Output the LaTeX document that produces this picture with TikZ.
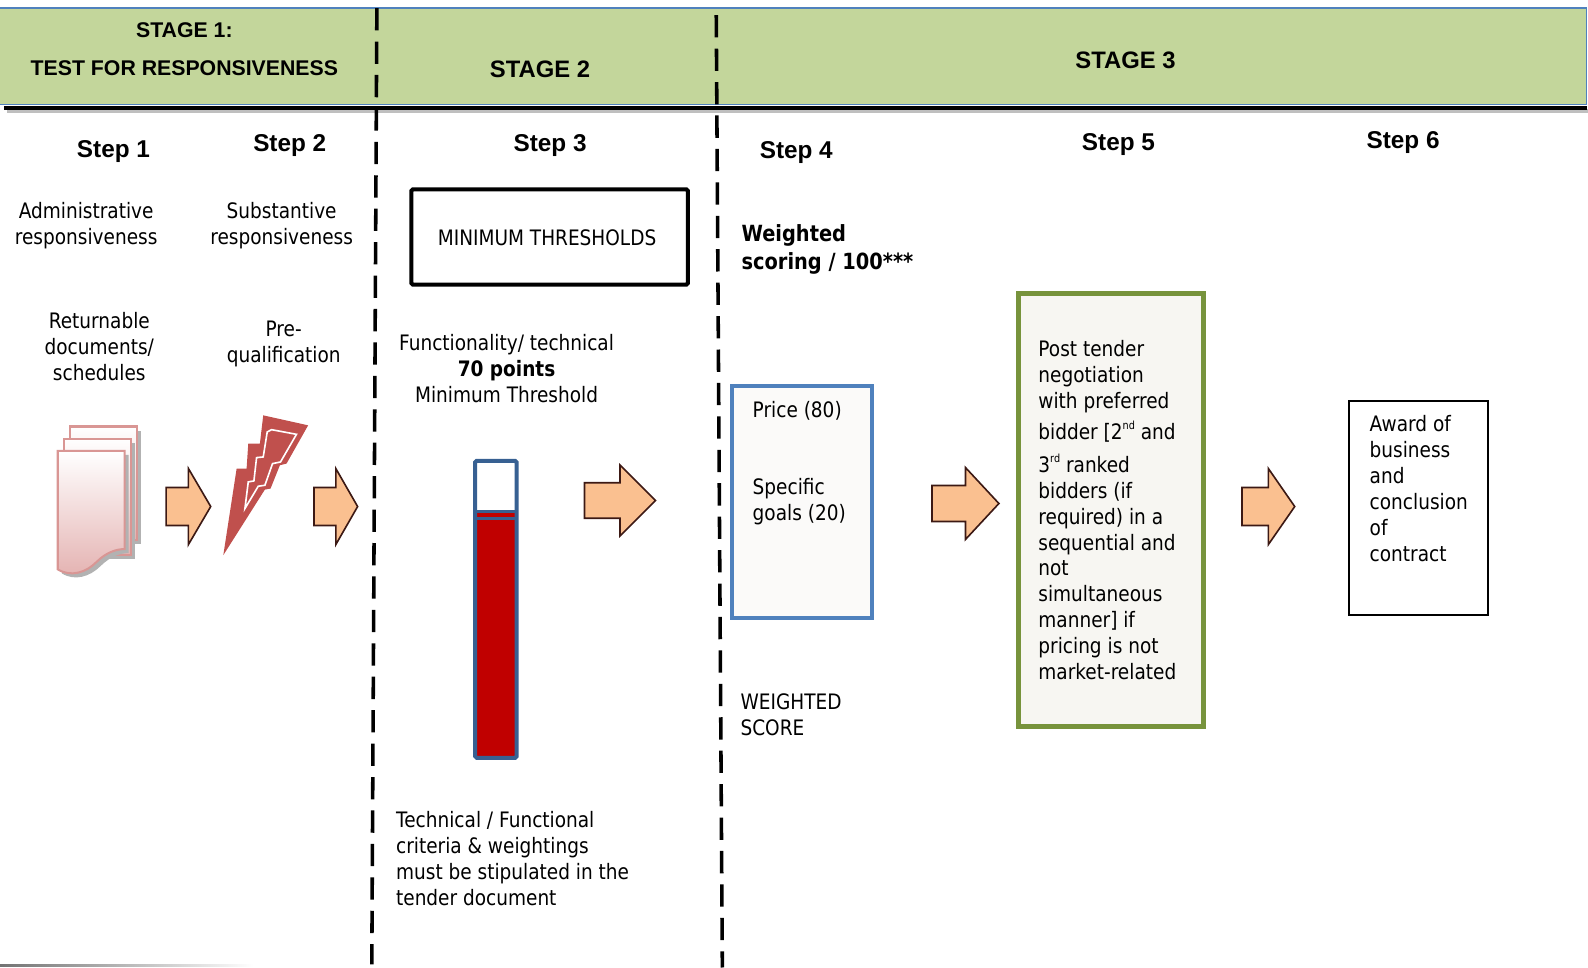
\documentclass[tikz,border=0pt]{standalone}
\usepackage{fontspec}
\setmainfont{DejaVu Sans}[FakeStretch=0.87]
\newfontfamily\hdrfont{Liberation Sans}
\definecolor{hdrgreen}{RGB}{195,214,155}
\definecolor{hdrblue}{RGB}{79,129,189}
\definecolor{arrfill}{RGB}{250,192,144}
\definecolor{arrline}{RGB}{60,25,20}
\definecolor{thermblue}{RGB}{55,96,146}
\definecolor{thermred}{RGB}{192,0,0}
\definecolor{pricebl}{RGB}{79,129,189}
\definecolor{boxgreen}{RGB}{119,147,60}
\definecolor{boxfill}{RGB}{247,246,242}
\definecolor{pricefill}{RGB}{251,250,249}
\definecolor{boltred}{RGB}{192,80,77}
\definecolor{docline}{RGB}{217,150,148}
\definecolor{docfill}{RGB}{228,178,177}
\newcommand\sups[1]{\smash{\raisebox{0.85ex}{\fontsize{11}{11}\selectfont #1}}}
\newcommand\barrow[4]{%
  \draw[arrowsty] (#1,#2-#4/4) -- (#1+#3/2,#2-#4/4) -- (#1+#3/2,#2-#4/2) -- (#1+#3,#2)
    -- (#1+#3/2,#2+#4/2) -- (#1+#3/2,#2+#4/4) -- (#1,#2+#4/4) -- cycle;}
\tikzset{
  arrowsty/.style={fill=arrfill, draw=arrline, line width=1.6, line join=miter},
  hdrtxt/.style={font=\hdrfont\bfseries\fontsize{21}{25}\selectfont, text height=15.75pt, text depth=5.25pt},
  hdrbig/.style={font=\hdrfont\bfseries\fontsize{23.5}{27}\selectfont, text height=17.6pt, text depth=5.9pt},
  steptxt/.style={font=\hdrfont\bfseries\fontsize{24}{28}\selectfont, text height=18pt, text depth=6pt},
  body/.style={font=\fontsize{21}{25.6}\selectfont},
  bodyb/.style={font=\bfseries\fontsize{22}{27}\selectfont},
  stagedash/.style={line width=3.5, dash pattern=on 22pt off 11pt},
  page/.style={top color=white, bottom color=docfill, draw=docline, line width=2},
  pageshadow/.style={fill=black!30},
}
\begin{document}
\begin{tikzpicture}[x=1pt,y=-1pt, every node/.style={inner sep=0pt, outer sep=0pt}]
\useasboundingbox (0,0) rectangle (1567.5,954.6);

% header band
\fill[hdrgreen] (0,8) rectangle (1566,103);
\draw[hdrblue, line width=1.5] (0,8) -- (1566,8) -- (1566,103) -- (0,103);
\draw[black!25, line width=4] (7,110) -- (1568,110);
\draw[black, line width=4] (4,106.5) -- (1566,106.5);

\node[hdrtxt] (st1a) at (182,32) {STAGE 1:};
\node[hdrtxt] (st1b) at (182,69) {TEST FOR RESPONSIVENESS};
\node[hdrbig] (st2) at (533,71) {STAGE 2};
\node[hdrbig] (st3) at (1111,62) {STAGE 3};

% stage dividers
\draw[stagedash] (372,8) -- (367,952);
\draw[stagedash] (707,15) -- (713,955);

% faint bottom line
\shade[left color=black!55, right color=white] (0,952.5) rectangle (250,954.5);

% step labels
\node[steptxt] (s1) at (112,149.5) {Step 1};
\node[steptxt] (s2) at (286,143.5) {Step 2};
\node[steptxt] (s3) at (543,143.5) {Step 3};
\node[steptxt] (s4) at (786,150.5) {Step 4};
\node[steptxt] (s5) at (1104,142.5) {Step 5};
\node[steptxt] (s6) at (1385,140.5) {Step 6};

% stage 1 texts
\node[body, align=center, anchor=north] (adm) at (85,200) {Administrative\\responsiveness};
\node[body, align=center, anchor=north] (sub) at (278,200) {Substantive\\responsiveness};
\node[body, align=center, anchor=north] (ret) at (98,308) {Returnable\\documents/\\schedules};
\node[body, align=center, anchor=north] (pre) at (280,317) {Pre-\\qualification};

% documents icon
\fill[pageshadow] (73,425) rectangle (139,537);
\shade[page] (69,421) rectangle (135,533);
\fill[pageshadow] (67,437) rectangle (133,552);
\shade[page] (63,433) rectangle (129,548);
\fill[pageshadow] (61,449) -- (127,449) -- (127,546) .. controls (119,546) and (109,549) .. (99,559)
   .. controls (89,569) and (74,574) .. (61,566) -- cycle;
\shade[page] (57,445) -- (123,445) -- (123,542) .. controls (115,542) and (105,545) .. (95,555)
   .. controls (85,565) and (70,570) .. (57,562) -- cycle;

% lightning icon
\begin{scope}[shift={(30,395.2)}, xscale=0.985/3, yscale=0.9857/3]
\fill[boltred] (700,45) -- (835,75) -- (770,190) -- (750,195) -- (722,265) -- (705,268)
   -- (580,465) -- (620,205) -- (650,205) -- (655,130) -- (690,130) -- cycle;
\draw[white, line width=1.6, line join=miter] (725,88) -- (800,102) -- (752,185) -- (728,190)
   -- (705,255) -- (685,258) -- (645,325) -- (655,245) -- (672,242) -- (680,172)
   -- (700,170) -- (712,95) -- cycle;
\end{scope}

% block arrows
\barrow{164}{500}{44}{75}
\barrow{310}{500}{43}{75}
\barrow{577}{494}{70}{70}
\barrow{920}{497}{66}{71}
\barrow{1226}{500}{52}{75}

% stage 2
\draw[black, line width=4, rounded corners=1.5] (406,187) rectangle (679,281);
\node[body, text height=15.75pt, text depth=5.25pt] (thr) at (540,237) {MINIMUM THRESHOLDS};
\node[body, align=center, anchor=north] (func) at (500,330)
  {Functionality/ technical\\\textbf{70 points}\\Minimum Threshold};
% thermometer
\fill[white] (469,455) rectangle (510,748);
\fill[thermred] (469,505) rectangle (510,748);
\draw[thermblue, line width=3] (469,505) -- (510,505);
\draw[thermblue, line width=3] (469,511.5) -- (510,511.5);
\draw[thermblue, line width=4, rounded corners=1.5] (469,455) rectangle (510,748);
\node[body, align=left, anchor=north west] (tech) at (391,801)
  {Technical / Functional\\criteria \& weightings\\must be stipulated in the\\tender document};

% stage 3 step 4
\node[bodyb, align=left, anchor=north west] (wsc) at (732,222) {Weighted\\scoring / 100***};
\draw[pricebl, line width=4, fill=pricefill] (723,381) rectangle (861,610);
\node[body, anchor=north west] (price) at (743,396) {Price (80)};
\node[body, align=left, anchor=north west] (goals) at (743,472) {Specific\\goals (20)};
\node[body, align=left, anchor=north west] (wscore) at (731,685) {WEIGHTED\\SCORE};

% step 5
\draw[boxgreen, line width=5, fill=boxfill] (1005.5,289.5) rectangle (1187.5,717.5);
\node[body, align=left, anchor=north west] (ptn) at (1025,336)
  {Post tender\\negotiation\\with preferred\\[5.4pt]bidder [2\sups{nd} and\\[6.4pt]3\sups{rd} ranked\\bidders (if\\required) in a\\sequential and\\not\\simultaneous\\manner] if\\pricing is not\\market-related};

% step 6
\draw[black, line width=2] (1332,396) rectangle (1469,607);
\node[body, align=left, anchor=north west] (award) at (1352,410)
  {Award of\\business\\and\\conclusion\\of\\contract};
\end{tikzpicture}
\end{document}
